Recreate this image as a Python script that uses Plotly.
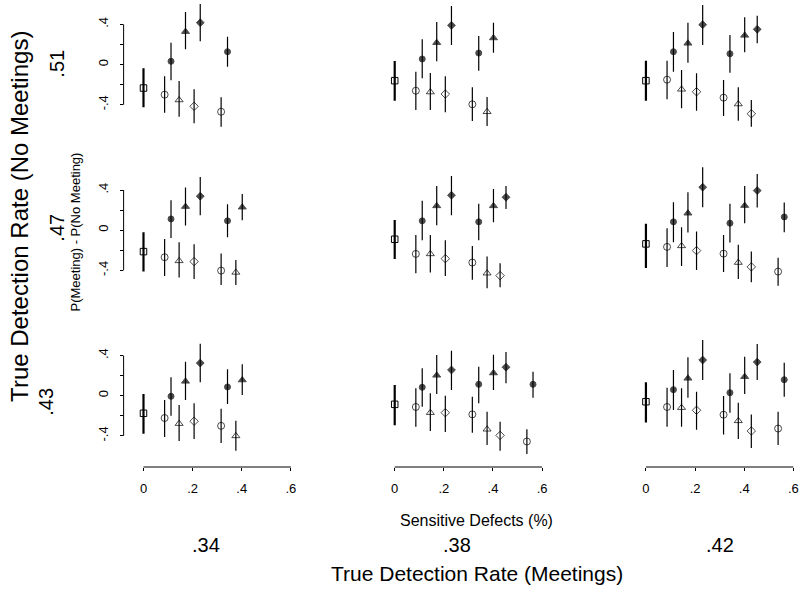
import plotly.graph_objects as go

# ---------------- data ----------------
# x positions (share of sensitive defects) of the conditions, in plotting order
defect_x = [0.0, 0.086, 0.112, 0.145, 0.171, 0.206, 0.231,
            0.316, 0.342, 0.376, 0.402, 0.429, 0.453, 0.538, 0.563]

col_labels = [".34", ".38", ".42"]     # True detection rate (meetings)
row_labels = [".51", ".47", ".43"]     # True detection rate (no meetings)
x_ticks = [0, 0.2, 0.4, 0.6]
x_tick_text = ["0", ".2", ".4", ".6"]
y_ticks = [-0.4, -0.2, 0, 0.2, 0.4]
y_tick_text = ["-.4", "", "0", "", ".4"]

# row 1 (.51)
est_r1c1 = [-0.234, -0.30, 0.032, -0.353, 0.327, -0.416, 0.416, -0.47, 0.127]
lo_r1c1 = [-0.426, -0.48, -0.157, -0.519, 0.151, -0.585, 0.231, -0.619, -0.022]
hi_r1c1 = [-0.038, -0.117, 0.217, -0.164, 0.522, -0.247, 0.602, -0.326, 0.277]

est_r1c2 = [-0.161, -0.261, 0.055, -0.274, 0.217, -0.294, 0.39, -0.396, 0.114, -0.47, 0.264]
lo_r1c2 = [-0.36, -0.453, -0.137, -0.453, 0.032, -0.476, 0.194, -0.562, -0.062, -0.612, 0.117]
hi_r1c2 = [0.035, -0.072, 0.251, -0.085, 0.423, -0.117, 0.582, -0.227, 0.284, -0.323, 0.416]

est_r1c3 = [-0.161, -0.151, 0.127, -0.247, 0.211, -0.271, 0.396, -0.33, 0.107, -0.393, 0.29, -0.49, 0.35]
lo_r1c3 = [-0.36, -0.346, -0.072, -0.436, 0.018, -0.46, 0.194, -0.512, -0.082, -0.559, 0.121, -0.619, 0.211]
hi_r1c3 = [0.038, 0.038, 0.323, -0.055, 0.416, -0.088, 0.592, -0.154, 0.294, -0.227, 0.47, -0.353, 0.486]

# row 2 (.47)
est_r2c1 = [-0.213, -0.269, 0.112, -0.305, 0.235, -0.312, 0.338, -0.402, 0.093, -0.42, 0.229]
lo_r2c1 = [-0.41, -0.455, -0.077, -0.47, 0.046, -0.485, 0.149, -0.545, -0.07, -0.545, 0.1]
hi_r2c1 = [-0.02, -0.087, 0.299, -0.119, 0.424, -0.139, 0.53, -0.233, 0.259, -0.296, 0.361]

est_r2c2 = [-0.09, -0.236, 0.093, -0.236, 0.242, -0.283, 0.348, -0.322, 0.083, -0.428, 0.242, -0.452, 0.328]
lo_r2c2 = [-0.286, -0.428, -0.1, -0.422, 0.05, -0.455, 0.149, -0.494, -0.1, -0.577, 0.08, -0.567, 0.212]
hi_r2c2 = [0.102, -0.047, 0.292, -0.047, 0.441, -0.1, 0.54, -0.156, 0.262, -0.262, 0.411, -0.33, 0.441]

est_r2c3 = [-0.136, -0.166, 0.083, -0.156, 0.169, -0.203, 0.428, -0.233, 0.07, -0.322, 0.245, -0.365, 0.394, -0.412, 0.132]
lo_r2c3 = [-0.375, -0.365, -0.119, -0.355, -0.024, -0.395, 0.229, -0.415, -0.123, -0.485, 0.07, -0.517, 0.225, -0.552, -0.02]
hi_r2c3 = [0.063, 0.02, 0.279, 0.03, 0.378, -0.014, 0.627, -0.047, 0.262, -0.146, 0.441, -0.213, 0.56, -0.275, 0.275]

# row 3 (.43)
est_r3c1 = [-0.175, -0.222, -0.006, -0.278, 0.143, -0.254, 0.325, -0.30, 0.087, -0.40, 0.156]
lo_r3c1 = [-0.378, -0.41, -0.199, -0.45, -0.043, -0.43, 0.133, -0.47, -0.083, -0.547, 0.007]
hi_r3c1 = [0.017, -0.043, 0.183, -0.093, 0.338, -0.076, 0.517, -0.129, 0.263, -0.25, 0.312]

est_r3c2 = [-0.086, -0.112, 0.084, -0.169, 0.203, -0.169, 0.256, -0.186, 0.113, -0.334, 0.226, -0.395, 0.283, -0.456, 0.113]
lo_r3c2 = [-0.295, -0.31, -0.109, -0.351, 0.017, -0.361, 0.057, -0.368, -0.076, -0.49, 0.057, -0.547, 0.123, -0.58, -0.02]
hi_r3c2 = [0.106, 0.074, 0.273, 0.024, 0.405, 0.0, 0.448, -0.01, 0.289, -0.16, 0.408, -0.26, 0.435, -0.334, 0.239]

est_r3c3 = [-0.06, -0.112, 0.06, -0.119, 0.173, -0.145, 0.355, -0.189, 0.03, -0.25, 0.189, -0.351, 0.335, -0.327, 0.159]
lo_r3c3 = [-0.267, -0.31, -0.142, -0.31, -0.02, -0.338, 0.156, -0.385, -0.169, -0.43, 0.017, -0.52, 0.156, -0.49, -0.01]
hi_r3c3 = [0.133, 0.08, 0.256, 0.074, 0.382, 0.04, 0.554, -0.003, 0.223, -0.07, 0.388, -0.186, 0.514, -0.16, 0.328]

panels = [
    [(est_r1c1, lo_r1c1, hi_r1c1), (est_r1c2, lo_r1c2, hi_r1c2), (est_r1c3, lo_r1c3, hi_r1c3)],
    [(est_r2c1, lo_r2c1, hi_r2c1), (est_r2c2, lo_r2c2, hi_r2c2), (est_r2c3, lo_r2c3, hi_r2c3)],
    [(est_r3c1, lo_r3c1, hi_r3c1), (est_r3c2, lo_r3c2, hi_r3c2), (est_r3c3, lo_r3c3, hi_r3c3)],
]

# ---------------- styling / layout geometry ----------------
W, H = 799, 589
FONT = "Liberation Sans, Arial, sans-serif"
X_SCALE = 247.2            # px per unit of x
Y_SCALE = 100.5            # px per unit of y
X0_PX = [144.4, 397.2, 650.0]
YC_PX = [64.5, 230.2, 395.7]
XAXIS_PX = 467.0

sym_cycle = ["circle-open", "circle", "triangle-up-open", "triangle-up", "diamond-open", "diamond"]
size_map = {"circle-open": 7, "circle": 6, "triangle-up-open": 7, "triangle-up": 7,
            "diamond-open": 6.5, "diamond": 6}


def fx(p):
    return p / W


def fy(p):
    return 1 - p / H


fig = go.Figure()
layout = dict(width=W, height=H, margin=dict(l=0, r=0, t=0, b=0),
              paper_bgcolor="white", plot_bgcolor="white", showlegend=False,
              font=dict(family=FONT, color="black"))
shapes = []

for r in range(3):
    for c in range(3):
        n = r * 3 + c + 1
        xa = "x" if n == 1 else f"x{n}"
        ya = "y" if n == 1 else f"y{n}"
        xkey = "xaxis" if n == 1 else f"xaxis{n}"
        ykey = "yaxis" if n == 1 else f"yaxis{n}"

        x0 = X0_PX[c]
        left = x0 - 20.0
        right = min(x0 + 149.5, W)
        yc = YC_PX[r]
        top = max(yc - 66.0, 0.0)
        bottom = XAXIS_PX if r == 2 else yc + 66.0

        xr = [(left - x0) / X_SCALE, (right - x0) / X_SCALE]
        yr = [-(bottom - yc) / Y_SCALE, (yc - top) / Y_SCALE]

        xaxis = dict(domain=[fx(left), fx(right)], range=xr, anchor=ya,
                     showgrid=False, zeroline=False, showline=False, fixedrange=True)
        if r == 2:
            xaxis.update(tickmode="array", tickvals=x_ticks, ticktext=x_tick_text,
                         ticks="outside", ticklen=3, tickwidth=1, tickcolor="black",
                         tickfont=dict(size=13, family=FONT, color="black"),
                         ticklabelstandoff=6, ticklabeloverflow="allow")
        else:
            xaxis.update(showticklabels=False, ticks="")
        yaxis = dict(domain=[fy(bottom), fy(top)], range=yr, anchor=xa,
                     showgrid=False, zeroline=False, showline=False, fixedrange=True)
        if c == 0:
            yaxis.update(tickmode="array", tickvals=y_ticks, ticktext=y_tick_text,
                         ticks="outside", ticklen=3, tickwidth=1, tickcolor="black",
                         tickangle=-90,
                         tickfont=dict(size=13, family=FONT, color="black"),
                         ticklabelstandoff=6, ticklabeloverflow="allow")
        else:
            yaxis.update(showticklabels=False, ticks="")
        layout[xkey] = xaxis
        layout[ykey] = yaxis

        # axis lines spanning only the labelled range (Stata style)
        if c == 0:
            shapes.append(dict(type="line", xref="paper", yref=ya,
                               x0=fx(left), x1=fx(left), y0=-0.4, y1=0.4,
                               line=dict(color="black", width=1)))
        if r == 2:
            shapes.append(dict(type="line", xref=xa, yref="paper",
                               x0=0, x1=0.6, y0=fy(XAXIS_PX), y1=fy(XAXIS_PX),
                               line=dict(color="black", width=1)))

        est, lo, hi = panels[r][c]
        k = len(est)
        xs = defect_x[:k]

        # control condition (square, heavy bar)
        fig.add_trace(go.Scatter(
            x=xs[:1], y=est[:1], mode="markers", xaxis=xa, yaxis=ya, cliponaxis=False,
            marker=dict(symbol="square-open", size=6.5, color="black",
                        line=dict(color="black", width=1)),
            error_y=dict(type="data", symmetric=False,
                         array=[hi[0] - est[0]], arrayminus=[est[0] - lo[0]],
                         color="black", thickness=2.2, width=0)))

        # treatment conditions
        syms = [sym_cycle[(i - 1) % 6] for i in range(1, k)]
        fig.add_trace(go.Scatter(
            x=xs[1:], y=est[1:], mode="markers", xaxis=xa, yaxis=ya, cliponaxis=False,
            marker=dict(symbol=syms, size=[size_map[s] for s in syms], color="black",
                        line=dict(color="black", width=1)),
            error_y=dict(type="data", symmetric=False,
                         array=[hi[i] - est[i] for i in range(1, k)],
                         arrayminus=[est[i] - lo[i] for i in range(1, k)],
                         color="black", thickness=1.2, width=0)))

layout["shapes"] = shapes

annotations = []
# left side labels
annotations.append(dict(text="True Detection Rate (No Meetings)", x=fx(19), y=fy(216),
                        xref="paper", yref="paper", showarrow=False, textangle=-90,
                        font=dict(size=24, family=FONT, color="black"),
                        xanchor="center", yanchor="middle"))
row_label_px = [(57, 64), (57, 228), (46, 402)]
for lab, (px, py) in zip(row_labels, row_label_px):
    annotations.append(dict(text=lab, x=fx(px), y=fy(py), xref="paper", yref="paper",
                            showarrow=False, textangle=-90,
                            font=dict(size=20, family=FONT, color="black"),
                            xanchor="center", yanchor="middle"))
annotations.append(dict(text="P(Meeting) - P(No Meeting)", x=fx(76), y=fy(232),
                        xref="paper", yref="paper", showarrow=False, textangle=-90,
                        font=dict(size=13, family=FONT, color="black"),
                        xanchor="center", yanchor="middle"))
# bottom labels
annotations.append(dict(text="Sensitive Defects (%)", x=fx(480), y=fy(520),
                        xref="paper", yref="paper", showarrow=False,
                        font=dict(size=16, family=FONT, color="black"),
                        xanchor="center", yanchor="middle"))
col_label_px = [207, 460, 725]
for lab, px in zip(col_labels, col_label_px):
    annotations.append(dict(text=lab, x=fx(px), y=fy(545), xref="paper", yref="paper",
                            showarrow=False,
                            font=dict(size=20, family=FONT, color="black"),
                            xanchor="center", yanchor="middle"))
annotations.append(dict(text="True Detection Rate (Meetings)", x=fx(480), y=fy(573),
                        xref="paper", yref="paper", showarrow=False,
                        font=dict(size=21, family=FONT, color="black"),
                        xanchor="center", yanchor="middle"))
layout["annotations"] = annotations

fig.update_layout(**layout)
fig.write_html("out.html")
